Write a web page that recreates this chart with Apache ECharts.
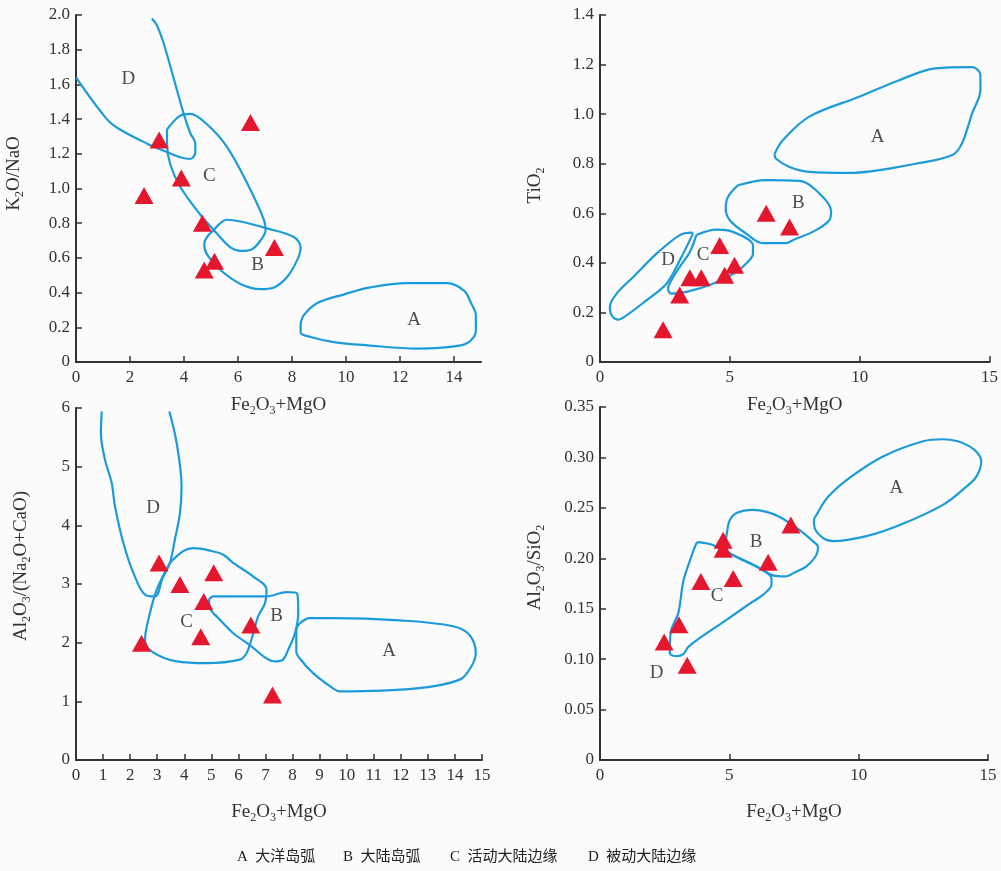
<!DOCTYPE html>
<html lang="zh">
<head>
<meta charset="utf-8">
<title>构造环境判别图</title>
<script src="https://cdn.jsdelivr.net/npm/echarts@6/dist/echarts.min.js"></script>
<style>
  html, body { margin: 0; padding: 0; background: #fbfbfb; }
  #chart { width: 1001px; height: 871px; }
</style>
</head>
<body>
<div id="chart"></div>
<script>
// ---------- 左上: K2O/NaO - (Fe2O3+MgO) ----------
const tlRegionA = [[8.32,0.22],[8.44,0.27],[8.94,0.34],[9.93,0.39],[10.9,0.43],[12.27,0.455],[13.76,0.455],[14.38,0.41],[14.63,0.34],[14.81,0.27],[14.81,0.18],[14.63,0.125],[14.26,0.096],[12.65,0.077],[10.8,0.096],[9.55,0.115],[8.69,0.144],[8.32,0.17]];
const tlRegionB = [[5.1,0.76],[5.59,0.82],[6.09,0.81],[7.08,0.77],[8.07,0.72],[8.32,0.66],[8.2,0.59],[7.82,0.49],[7.33,0.43],[6.83,0.42],[6.09,0.45],[5.35,0.53],[4.85,0.62],[4.75,0.68],[4.85,0.72]];
const tlRegionC = [[3.37,1.34],[3.86,1.42],[4.23,1.43],[4.85,1.37],[5.59,1.24],[6.34,1.03],[6.96,0.82],[7.02,0.76],[6.83,0.70],[6.52,0.65],[6.09,0.64],[5.72,0.66],[5.22,0.74],[4.6,0.85],[3.86,1.01],[3.49,1.14],[3.37,1.26]];
const tlRegionD = [[0,1.64],[1.14,1.40],[1.63,1.34],[2.62,1.26],[3.37,1.21],[3.86,1.18],[4.23,1.17],[4.42,1.21],[4.42,1.26],[4.23,1.32],[3.99,1.43],[3.61,1.64],[3.24,1.84],[3.0,1.94],[2.81,1.98]];
const tlSamples = [[3.08,1.28],[6.46,1.38],[3.9,1.06],[2.52,0.96],[4.68,0.80],[7.35,0.66],[5.13,0.58],[4.75,0.53]];
const tlLabels = [[12.52,0.24,'A'],[6.73,0.56,'B'],[4.94,1.07,'C'],[1.94,1.63,'D']];
const tlXTicks = [0,2,4,6,8,10,12,14];

// ---------- 右上: TiO2 - (Fe2O3+MgO) ----------
const trRegionA = [[6.72,0.839],[7.04,0.895],[8.06,0.99],[9.98,1.07],[11.52,1.137],[12.92,1.185],[14.33,1.19],[14.65,1.158],[14.65,1.097],[14.33,1.003],[13.94,0.882],[13.57,0.835],[12.16,0.80],[9.6,0.763],[8.06,0.767],[7.3,0.787],[6.78,0.82]];
const trRegionB = [[5.31,0.713],[6.4,0.734],[7.68,0.731],[8.32,0.693],[8.9,0.606],[8.83,0.572],[8.32,0.532],[7.42,0.491],[7.17,0.48],[6.27,0.48],[5.63,0.518],[5.0,0.572],[4.84,0.619],[4.93,0.666]];
const trRegionC = [[3.71,0.512],[4.48,0.534],[5.12,0.525],[5.89,0.471],[5.89,0.437],[5.63,0.397],[5.25,0.363],[4.35,0.316],[3.33,0.283],[2.75,0.276],[2.62,0.296],[2.75,0.33],[3.07,0.384],[3.46,0.444]];
const trRegionD = [[3.58,0.518],[3.07,0.41],[2.56,0.316],[1.79,0.249],[1.02,0.188],[0.70,0.171],[0.45,0.188],[0.38,0.222],[0.64,0.276],[1.28,0.343],[2.18,0.437],[3.07,0.512],[3.52,0.522]];
const trSamples = [[6.40,0.60],[7.30,0.545],[4.61,0.47],[5.18,0.39],[3.46,0.34],[3.90,0.34],[4.80,0.35],[3.07,0.27],[2.43,0.13]];
const trLabels = [[10.69,0.909,'A'],[7.64,0.642,'B'],[3.97,0.431,'C'],[2.62,0.413,'D']];

// ---------- 左下: Al2O3/(Na2O+CaO) - (Fe2O3+MgO) ----------
const blRegionA = [[8.58,2.42],[9.5,2.42],[11.96,2.38],[13.93,2.28],[14.54,2.13],[14.77,1.82],[14.6,1.59],[14.18,1.37],[12.58,1.22],[9.75,1.17],[9.5,1.22],[8.76,1.48],[8.27,1.73],[8.14,1.85],[8.14,2.22],[8.27,2.33]];
const blRegionB = [[5.07,2.79],[7.04,2.79],[7.78,2.86],[8.17,2.84],[8.21,2.50],[8.09,2.16],[7.84,1.88],[7.65,1.71],[7.35,1.68],[7.04,1.73],[6.42,1.96],[5.81,2.16],[5.32,2.39],[4.95,2.59],[4.92,2.73]];
const blRegionC = [[3.47,3.36],[3.96,3.56],[4.33,3.61],[4.95,3.57],[5.44,3.50],[5.81,3.36],[6.54,3.13],[7.04,2.91],[6.98,2.67],[6.73,2.45],[6.48,2.05],[6.3,1.82],[6.05,1.71],[4.82,1.65],[3.72,1.68],[2.79,1.85],[2.55,2.05],[2.73,2.50],[2.98,2.90]];
const blRegionD = [[0.95,5.94],[0.92,5.57],[1.07,5.12],[1.32,4.72],[1.44,4.32],[1.75,3.70],[2.12,3.19],[2.55,2.82],[2.92,2.79],[3.2,3.1],[3.47,3.36],[3.65,3.75],[3.84,4.21],[3.9,4.66],[3.72,5.40],[3.45,5.94]];
const blSamples = [[3.07,3.36],[3.84,2.99],[5.09,3.19],[4.72,2.70],[6.46,2.30],[4.61,2.10],[2.42,1.99],[7.26,1.11]];
const blLabels = [[11.57,1.85,'A'],[7.41,2.46,'B'],[4.09,2.36,'C'],[2.85,4.29,'D']];

// ---------- 右下: Al2O3/SiO2 - (Fe2O3+MgO) ----------
const brRegionA = [[8.37,0.243],[8.82,0.261],[9.66,0.280],[10.94,0.301],[12.49,0.316],[13.26,0.318],[14.29,0.311],[14.74,0.296],[14.55,0.281],[14.16,0.271],[13.26,0.253],[11.59,0.233],[10.3,0.222],[9.01,0.217],[8.63,0.22],[8.3,0.23],[8.27,0.238]];
const brRegionB = [[4.92,0.227],[5.02,0.238],[5.28,0.245],[5.92,0.248],[6.44,0.246],[6.95,0.241],[7.72,0.228],[8.18,0.218],[8.43,0.211],[8.34,0.202],[7.98,0.192],[7.6,0.187],[7.15,0.182],[6.69,0.183],[6.18,0.19],[5.15,0.203],[4.89,0.208],[4.87,0.218]];
const brRegionC = [[3.82,0.216],[4.38,0.213],[5.15,0.203],[6.18,0.19],[6.63,0.180],[6.63,0.174],[6.31,0.164],[5.79,0.155],[4.89,0.139],[3.86,0.121],[3.41,0.112],[3.22,0.105],[2.96,0.103],[2.70,0.106],[2.73,0.126],[3.03,0.146],[3.22,0.177],[3.48,0.198],[3.73,0.215]];
const brSamples = [[7.38,0.233],[4.76,0.218],[4.76,0.209],[6.5,0.196],[3.9,0.177],[5.15,0.180],[3.05,0.134],[2.48,0.117],[3.37,0.094]];
const brLabels = [[11.46,0.27,'A'],[6.03,0.216,'B'],[4.53,0.163,'C'],[2.19,0.086,'D']];

// 图例文字
const legendItems = ['A  大洋岛弧', 'B  大陆岛弧', 'C  活动大陆边缘', 'D  被动大陆边缘'];
const legendX = [237, 343, 450, 588];

const LINE_COLOR = '#1b9bd8';
const TRI_COLOR = '#e5172f';
const SERIF = '"Liberation Serif", "DejaVu Serif", "Noto Sans CJK SC", serif';

const chart = echarts.init(document.getElementById('chart'));

const nameRich = {
  n: { fontFamily: SERIF, fontSize: 19, color: '#333', lineHeight: 24, verticalAlign: 'middle' },
  s: { fontFamily: SERIF, fontSize: 12, color: '#333', lineHeight: 12, verticalAlign: 'bottom' }
};
const feName = '{n|Fe}{s|2}{n|O}{s|3}{n|+MgO}';

function xAxisOf(gi, max, interval, gap, ticks) {
  const ax = {
    gridIndex: gi, type: 'value', min: 0, max: max, interval: interval,
    name: feName, nameLocation: 'middle', nameGap: gap,
    nameTextStyle: { rich: nameRich },
    axisLine: { show: true, lineStyle: { color: '#333', width: 2 } },
    axisTick: { show: true, inside: true, length: 6, lineStyle: { color: '#333', width: 1.5 } },
    axisLabel: { color: '#333', fontFamily: SERIF, fontSize: 17, margin: 7 },
    splitLine: { show: false }
  };
  if (ticks) {
    ax.axisTick.customValues = ticks;
    ax.axisLabel.customValues = ticks;
  }
  return ax;
}

function yAxisOf(gi, max, interval, name, gap, digits, shift) {
  return {
    gridIndex: gi, type: 'value', min: 0, max: max, interval: interval,
    name: name, nameLocation: 'middle', nameGap: gap, nameRotate: 90,
    nameTextStyle: { rich: nameRich, padding: [0, 0, 0, shift] },
    axisLine: { show: true, lineStyle: { color: '#333', width: 2 } },
    axisTick: { show: true, inside: true, length: 6, lineStyle: { color: '#333', width: 1.5 } },
    axisLabel: {
      color: '#333', fontFamily: SERIF, fontSize: 17, margin: 6,
      formatter: v => (v === 0 ? '0' : v.toFixed(digits))
    },
    splitLine: { show: false }
  };
}

function regionLine(gi, pts, closed) {
  const data = closed ? pts.concat([pts[0]]) : pts;
  return {
    type: 'line', xAxisIndex: gi, yAxisIndex: gi, data: data,
    smooth: 0.35, symbol: 'none', silent: true,
    lineStyle: { color: LINE_COLOR, width: 2.2 }, z: 2
  };
}

function panelSeries(gi, regions, openRegion, samples, labels) {
  const out = regions.map(r => regionLine(gi, r, true));
  if (openRegion) out.push(regionLine(gi, openRegion, false));
  out.push({
    type: 'scatter', xAxisIndex: gi, yAxisIndex: gi, data: samples,
    symbol: 'triangle', symbolSize: [19, 17],
    itemStyle: { color: TRI_COLOR, opacity: 1 }, z: 5
  });
  out.push({
    type: 'scatter', xAxisIndex: gi, yAxisIndex: gi, data: labels,
    symbolSize: 1, itemStyle: { color: 'transparent' }, z: 4,
    label: {
      show: true, position: 'inside', color: '#222',
      fontFamily: SERIF, fontSize: 19,
      formatter: p => p.value[2]
    }
  });
  return out;
}

const option = {
  backgroundColor: '#fbfbfb',
  animation: false,
  grid: [
    { left: 76, top: 15, width: 405, height: 347 },
    { left: 600, top: 15, width: 391, height: 347 },
    { left: 76, top: 408, width: 406, height: 352 },
    { left: 600, top: 407, width: 388, height: 353 }
  ],
  xAxis: [
    xAxisOf(0, 15, 2, 31, tlXTicks),
    xAxisOf(1, 15, 5, 31),
    xAxisOf(2, 15, 1, 40),
    xAxisOf(3, 15, 5, 40)
  ],
  yAxis: [
    yAxisOf(0, 2, 0.2, '{n|K}{s|2}{n|O/NaO}', 50, 1, 30),
    yAxisOf(1, 1.4, 0.2, '{n|TiO}{s|2}', 53, 1, 6),
    yAxisOf(2, 6, 1, '{n|Al}{s|2}{n|O}{s|3}{n|/(Na}{s|2}{n|O+CaO)}', 43, 0, 36),
    yAxisOf(3, 0.35, 0.05, '{n|Al}{s|2}{n|O}{s|3}{n|/SiO}{s|2}', 53, 2, 32)
  ],
  series: [].concat(
    panelSeries(0, [tlRegionA, tlRegionB, tlRegionC], tlRegionD, tlSamples, tlLabels),
    panelSeries(1, [trRegionA, trRegionB, trRegionC, trRegionD], null, trSamples, trLabels),
    panelSeries(2, [blRegionA, blRegionB, blRegionC], blRegionD, blSamples, blLabels),
    panelSeries(3, [brRegionA, brRegionB, brRegionC], null, brSamples, brLabels)
  ),
  graphic: legendItems.map((t, i) => ({
    type: 'text', left: legendX[i], top: 850,
    style: { text: t, fill: '#222', font: '15px ' + SERIF }
  }))
};

chart.setOption(option);
</script>
</body>
</html>
